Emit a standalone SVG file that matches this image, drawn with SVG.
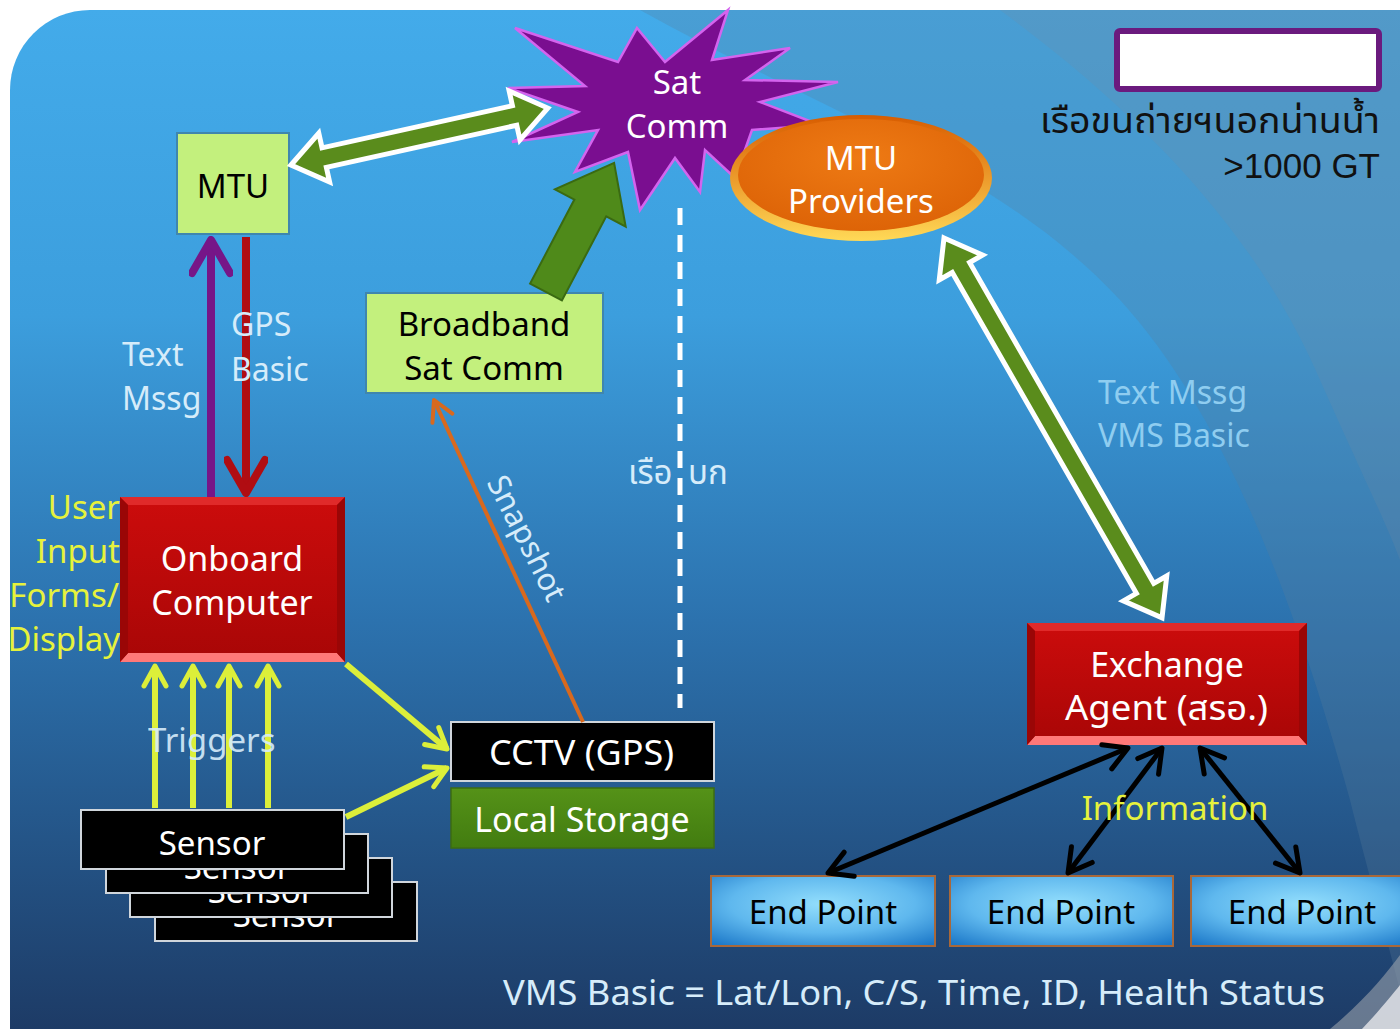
<svg xmlns="http://www.w3.org/2000/svg" width="1400" height="1029" viewBox="0 0 1400 1029">
<defs>
<linearGradient id="bg" x1="0" y1="0" x2="0" y2="1">
<stop offset="0" stop-color="#43abea"/>
<stop offset="0.3" stop-color="#3c9edd"/>
<stop offset="0.6" stop-color="#2c72ae"/>
<stop offset="1" stop-color="#1d3b66"/>
</linearGradient>
<linearGradient id="redG" x1="0" y1="0" x2="0" y2="1">
<stop offset="0" stop-color="#cc0c0c"/>
<stop offset="1" stop-color="#a80606"/>
</linearGradient>
<radialGradient id="epG" cx="0.5" cy="0.4" r="0.75">
<stop offset="0" stop-color="#93defc"/>
<stop offset="0.55" stop-color="#5fb8ee"/>
<stop offset="1" stop-color="#1c78c8"/>
</radialGradient>
<linearGradient id="ringG" x1="0" y1="0" x2="0" y2="1">
<stop offset="0" stop-color="#d85c00"/>
<stop offset="1" stop-color="#ffd957"/>
</linearGradient>
<radialGradient id="ovalG" cx="0.5" cy="0.35" r="0.7">
<stop offset="0" stop-color="#ee7a14"/>
<stop offset="1" stop-color="#dc6206"/>
</radialGradient>
<linearGradient id="lsG" x1="0" y1="0" x2="0" y2="1">
<stop offset="0" stop-color="#559218"/>
<stop offset="1" stop-color="#427c10"/>
</linearGradient>
<marker id="mY" viewBox="0 0 28 28" refX="25" refY="14" markerWidth="28" markerHeight="28" markerUnits="userSpaceOnUse" orient="auto-start-reverse"><path d="M5,3 L25,14 L5,25" fill="none" stroke="#dcef3a" stroke-width="5" stroke-linecap="round" stroke-linejoin="round"/></marker>
<marker id="mK" viewBox="0 0 32 32" refX="29" refY="16" markerWidth="32" markerHeight="32" markerUnits="userSpaceOnUse" orient="auto-start-reverse"><path d="M6,3 L29,16 L6,29" fill="none" stroke="#000" stroke-width="5" stroke-linecap="round" stroke-linejoin="round"/></marker>
<marker id="mP" viewBox="0 0 44 44" refX="40" refY="22" markerWidth="44" markerHeight="44" markerUnits="userSpaceOnUse" orient="auto-start-reverse"><path d="M7,3 L40,22 L7,41" fill="none" stroke="#761688" stroke-width="8" stroke-linecap="round" stroke-linejoin="round"/></marker>
<marker id="mR" viewBox="0 0 44 44" refX="40" refY="22" markerWidth="44" markerHeight="44" markerUnits="userSpaceOnUse" orient="auto-start-reverse"><path d="M7,3 L40,22 L7,41" fill="none" stroke="#b00d12" stroke-width="8" stroke-linecap="round" stroke-linejoin="round"/></marker>
<marker id="mO" viewBox="0 0 28 28" refX="25" refY="14" markerWidth="28" markerHeight="28" markerUnits="userSpaceOnUse" orient="auto-start-reverse"><path d="M5,3 L25,14 L5,25" fill="none" stroke="#d8691e" stroke-width="4" stroke-linecap="round" stroke-linejoin="round"/></marker>
</defs>
<style>
text{font-family:"Noto Sans","Noto Sans Thai","DejaVu Sans",sans-serif;font-size:33px}
.w{fill:#ffffff}
.k{fill:#000000}
.y{fill:#e6f23c}
.lt{fill:#d6ecfa}
.lt2{fill:#8fcdf0}
.c{text-anchor:middle}
.r{text-anchor:end}
.nb{font-size:34px}
.green{fill:#c3f07d;stroke:#3f86ae;stroke-width:2}
.blk{fill:#000;stroke:#d0d6dc;stroke-width:2}
.ep{fill:url(#epG);stroke:#a8683a;stroke-width:2}
.bigarrow{fill:#5a8c1c;stroke:#ffffff;stroke-width:5;stroke-linejoin:miter}
</style>

<!-- background -->
<rect x="0" y="0" width="1400" height="1029" fill="#ffffff"/>
<path d="M10,90 A80,80 0 0 1 90,10 L1400,10 L1400,1029 L10,1029 Z" fill="url(#bg)"/>
<path d="M640,10 C820,110 1000,170 1120,300 C1230,420 1300,620 1350,800 C1370,880 1390,950 1400,990 L1400,10 Z" fill="#5a7f9c" opacity="0.28"/>
<path d="M1000,10 C1150,120 1260,240 1320,380 C1360,470 1385,520 1400,560 L1400,10 Z" fill="#7a8ea0" opacity="0.2"/>
<path d="M1330,1029 C1365,1000 1385,975 1400,955 L1400,1029 Z" fill="#9aa2ac" opacity="0.6"/>
<path d="M1362,1029 C1380,1010 1392,995 1400,985 L1400,1029 Z" fill="#e0e2e6" opacity="0.85"/>

<!-- free labels behind nodes -->
<g id="labels-left">
<text class="y r" x="120" y="519">User</text>
<text class="y r" x="120" y="563">Input</text>
<text class="y r" x="119" y="607">Forms/</text>
<text class="y r" x="120" y="651">Display</text>
</g>

<!-- nodes -->
<g id="sat-comm">
<path d="M637,28 L665,62 L728,10 L712,60 L790,48 L745,80 L838,82 L760,102 L820,125 L752,130 L735,178 L705,150 L700,192 L675,158 L640,210 L628,152 L575,172 L598,130 L512,142 L578,112 L508,88 L585,86 L515,28 L618,62 Z" fill="#7a0e90" stroke="#d464ee" stroke-width="2.5" stroke-linejoin="miter"/>
<text class="w c" x="677" y="94">Sat</text>
<text class="w c" x="677" y="138">Comm</text>
</g>

<g id="mtu-providers">
<ellipse cx="861" cy="178" rx="131" ry="63" fill="url(#ringG)"/>
<ellipse cx="861" cy="175" rx="123" ry="56" fill="url(#ovalG)"/>
<text class="w c" x="861" y="170">MTU</text>
<text class="w c" x="861" y="213">Providers</text>
</g>

<g id="legend">
<rect x="1117" y="31" width="262" height="58" rx="3" fill="#ffffff" stroke="#6b1a7e" stroke-width="6"/>
<text x="1040" y="133" fill="#111" style="font-size:35px" textLength="340" lengthAdjust="spacingAndGlyphs">เรือขนถ่ายฯนอกน่านน้ำ</text>
<text class="r" x="1380" y="178" fill="#111" style="font-family:'Liberation Sans',sans-serif;font-size:35px">&gt;1000 GT</text>
</g>

<g id="mtu">
<rect class="green" x="177" y="133" width="112" height="101"/>
<text class="k c" x="233" y="198" style="font-size:33px">MTU</text>
</g>

<g id="broadband">
<rect class="green" x="366" y="293" width="237" height="100"/>
<text class="k c" x="484" y="336">Broadband</text>
<text class="k c" x="484" y="380">Sat Comm</text>
</g>

<g id="onboard-computer">
<rect x="120" y="497" width="225" height="165" fill="url(#redG)"/>
<polygon points="120,497 345,497 337,505 128,505" fill="#e02a2a"/>
<polygon points="120,662 345,662 337,653 128,653" fill="#ff7878"/>
<polygon points="120,497 128,505 128,653 120,662" fill="#9a0606"/>
<polygon points="345,497 337,505 337,653 345,662" fill="#9a0606"/>
<text class="w c nb" x="232" y="571">Onboard</text>
<text class="w c nb" x="232" y="615">Computer</text>
</g>

<g id="exchange-agent">
<rect x="1027" y="623" width="280" height="122" fill="url(#redG)"/>
<polygon points="1027,623 1307,623 1299,631 1035,631" fill="#e02a2a"/>
<polygon points="1027,745 1307,745 1299,736 1035,736" fill="#ff7878"/>
<polygon points="1027,623 1035,631 1035,736 1027,745" fill="#9a0606"/>
<polygon points="1307,623 1299,631 1299,736 1307,745" fill="#9a0606"/>
<text class="w c nb" x="1167" y="677">Exchange</text>
<text class="w nb" x="1065" y="720" textLength="203" lengthAdjust="spacingAndGlyphs">Agent (สรอ.)</text>
</g>

<g id="cctv">
<rect class="blk" x="451" y="722" width="263" height="59"/>
<text class="w" x="489" y="765" style="font-size:35px" textLength="185" lengthAdjust="spacingAndGlyphs">CCTV (GPS)</text>
</g>

<g id="local-storage">
<rect x="451" y="788" width="263" height="60" fill="url(#lsG)" stroke="#3c6c12" stroke-width="1.5"/>
<text class="w c" x="582" y="832" style="font-size:34px">Local Storage</text>
</g>

<g id="sensor-4">
<rect class="blk" x="155" y="882" width="262" height="59"/>
<text class="w c" x="286" y="927">Sensor</text>
</g>
<g id="sensor-3">
<rect class="blk" x="130" y="858" width="262" height="59"/>
<text class="w c" x="261" y="903">Sensor</text>
</g>
<g id="sensor-2">
<rect class="blk" x="106" y="834" width="262" height="59"/>
<text class="w c" x="237" y="879">Sensor</text>
</g>
<g id="sensor-1">
<rect class="blk" x="81" y="810" width="263" height="59"/>
<text class="w c" x="212" y="855">Sensor</text>
</g>

<g id="end-point-1">
<rect class="ep" x="711" y="876" width="224" height="70"/>
<text class="k c" x="823" y="924">End Point</text>
</g>
<g id="end-point-2">
<rect class="ep" x="950" y="876" width="223" height="70"/>
<text class="k c" x="1061" y="924">End Point</text>
</g>
<g id="end-point-3">
<rect class="ep" x="1191" y="876" width="224" height="70"/>
<text class="k c" x="1302" y="924">End Point</text>
</g>

<!-- connectors -->
<g id="connectors">
<line x1="680" y1="208" x2="680" y2="708" stroke="#ffffff" stroke-width="5" stroke-dasharray="17 10"/>
<g transform="translate(291,165) rotate(-12.5)"><polygon class="bigarrow" points="0,0 34,-25 34,-10 229,-10 229,-25 263,0 229,25 229,10 34,10 34,25"/></g>
<g transform="translate(944,238) rotate(60.15)"><polygon class="bigarrow" points="0,0 34,-25 34,-10 404,-10 404,-25 438,0 404,25 404,10 34,10 34,25"/></g>
<g transform="translate(546,292) rotate(-62.2)"><polygon points="0,-18 95,-18 95,-40 146,0 95,40 95,18 0,18" fill="#4f8a1a" stroke="#3a6a12" stroke-width="2"/></g>
<line x1="211" y1="497" x2="211" y2="240" stroke="#761688" stroke-width="8" marker-end="url(#mP)"/>
<line x1="246" y1="237" x2="246" y2="493" stroke="#b00d12" stroke-width="8" marker-end="url(#mR)"/>
<line x1="583" y1="722" x2="434" y2="400" stroke="#d8691e" stroke-width="4" marker-end="url(#mO)"/>
<line x1="155" y1="808" x2="155" y2="666" stroke="#dcef3a" stroke-width="6" marker-end="url(#mY)"/>
<line x1="193" y1="808" x2="193" y2="666" stroke="#dcef3a" stroke-width="6" marker-end="url(#mY)"/>
<line x1="229" y1="808" x2="229" y2="666" stroke="#dcef3a" stroke-width="6" marker-end="url(#mY)"/>
<line x1="268" y1="808" x2="268" y2="666" stroke="#dcef3a" stroke-width="6" marker-end="url(#mY)"/>
<line x1="346" y1="664" x2="447" y2="749" stroke="#dcef3a" stroke-width="6" marker-end="url(#mY)"/>
<line x1="346" y1="817" x2="447" y2="768" stroke="#dcef3a" stroke-width="6" marker-end="url(#mY)"/>
<line x1="1128" y1="748" x2="828" y2="873" stroke="#000" stroke-width="5" marker-start="url(#mK)" marker-end="url(#mK)"/>
<line x1="1162" y1="748" x2="1068" y2="873" stroke="#000" stroke-width="5" marker-start="url(#mK)" marker-end="url(#mK)"/>
<line x1="1200" y1="748" x2="1300" y2="873" stroke="#000" stroke-width="5" marker-start="url(#mK)" marker-end="url(#mK)"/>
</g>

<!-- connector labels -->
<g id="connector-labels">
<text class="lt" x="122" y="366" style="font-size:32px">Text</text>
<text class="lt" x="122" y="410" style="font-size:32px">Mssg</text>
<text class="lt" x="231" y="336" style="font-size:32px">GPS</text>
<text class="lt" x="231" y="381" style="font-size:32px">Basic</text>
<text class="lt" x="628" y="484" style="font-size:33px">เรือ</text>
<text class="lt" x="688" y="484" style="font-size:33px">บก</text>
<text class="lt2" x="1098" y="404" style="font-size:32px">Text Mssg</text>
<text class="lt2" x="1098" y="447" style="font-size:32px">VMS Basic</text>
<text class="lt c" transform="translate(527,538) rotate(63)" y="11" style="font-size:31px">Snapshot</text>
<text class="lt" x="148" y="752" opacity="0.9" style="font-size:33px">Triggers</text>
<text class="y c" x="1175" y="820">Information</text>
<text class="lt" x="503" y="1005" style="font-size:34px" textLength="822" lengthAdjust="spacingAndGlyphs">VMS Basic = Lat/Lon, C/S, Time, ID, Health Status</text>
</g>
</svg>
